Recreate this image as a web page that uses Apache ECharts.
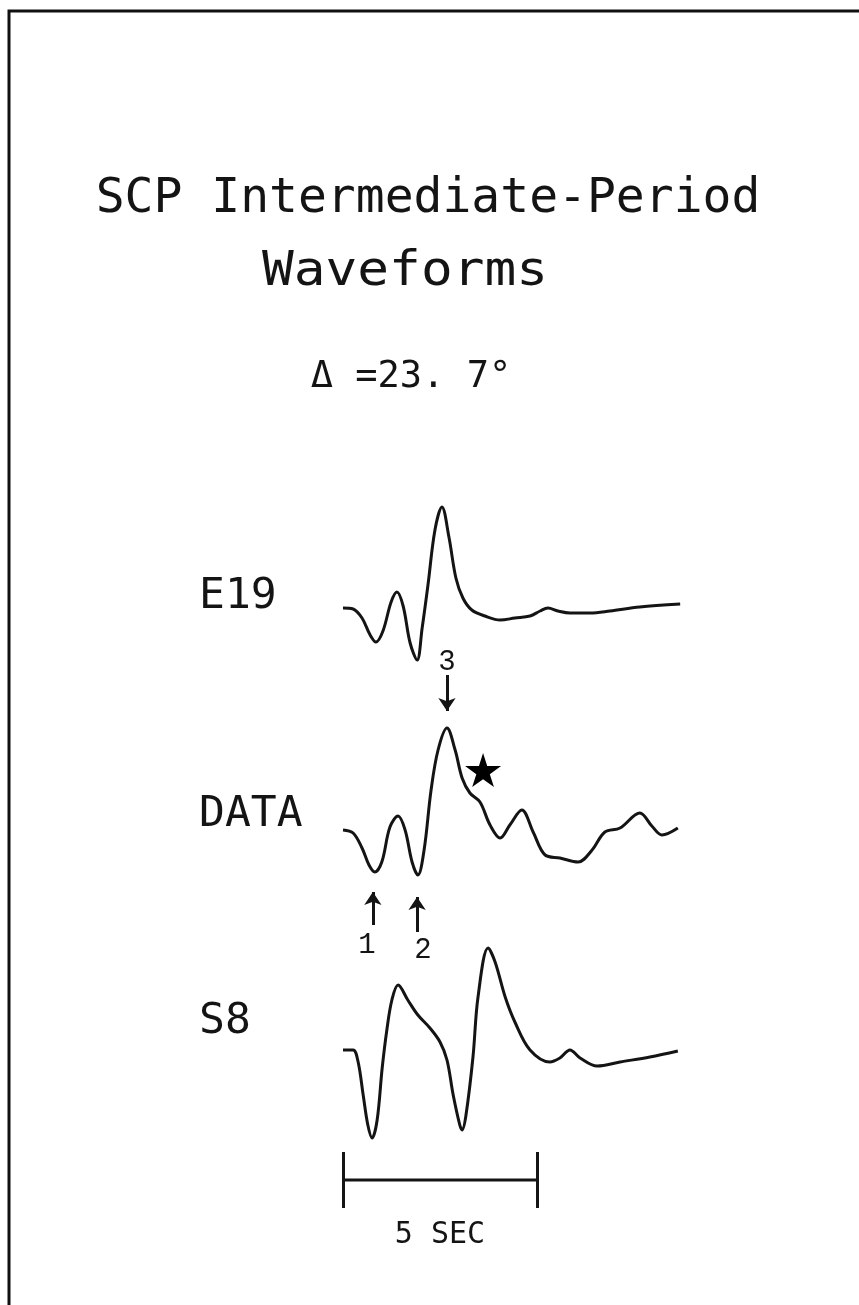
<!DOCTYPE html>
<html><head><meta charset="utf-8">
<script src="https://cdn.jsdelivr.net/npm/echarts@6/dist/echarts.min.js"></script>
<style>html,body{margin:0;padding:0;background:#fff}#c{width:859px;height:1305px}</style>
</head><body><div id="c"></div><script>
// ---- data (time in seconds, amplitude in arbitrary units, up = positive) ----
const stations = ['E19', 'DATA', 'S8'];
const e19 = [[0,0],[0.26,-0.1],[0.49,-1.0],[0.70,-2.7],[0.85,-3.4],[1.03,-2.3],[1.24,0.6],[1.39,1.6],
  [1.55,0.2],[1.73,-3.5],[1.91,-5.2],[2.04,-2.0],[2.19,2.3],[2.37,7.8],[2.55,10.1],[2.73,7.1],[2.91,3.0],
  [3.09,1.0],[3.32,-0.2],[3.66,-0.8],[4.05,-1.2],[4.43,-1.0],[4.82,-0.8],[5.08,-0.3],[5.28,0.0],[5.54,-0.3],
  [5.85,-0.5],[6.37,-0.5],[6.88,-0.3],[7.65,0.1],[8.69,0.4]];
const dataTrace = [[0,0],[0.26,-0.3],[0.49,-1.8],[0.67,-3.5],[0.82,-4.2],[1.00,-3.2],[1.21,0.3],[1.42,1.4],
  [1.60,0.0],[1.78,-3.2],[1.93,-4.5],[2.09,-2.0],[2.27,4.0],[2.45,8.0],[2.68,10.2],[2.89,8.0],[3.07,5.2],
  [3.27,3.7],[3.53,2.8],[3.79,0.5],[4.05,-0.8],[4.30,0.5],[4.61,2.0],[4.90,-0.2],[5.21,-2.5],[5.59,-2.8],
  [6.06,-3.2],[6.42,-2.0],[6.75,-0.2],[7.14,0.2],[7.65,1.7],[7.96,0.4],[8.22,-0.5],[8.63,0.2]];
const s8 = [[0,0],[0.26,0.0],[0.39,-1.2],[0.52,-4.5],[0.64,-7.5],[0.75,-8.8],[0.88,-7.0],[1.01,-1.8],
  [1.13,2.0],[1.26,5.0],[1.42,6.5],[1.67,5.0],[1.93,3.5],[2.24,2.2],[2.50,0.8],[2.68,-1.0],[2.84,-4.5],
  [3.01,-7.5],[3.07,-8.0],[3.17,-6.5],[3.35,-0.7],[3.48,5.3],[3.74,10.2],[3.92,8.8],[4.18,5.3],[4.43,2.8],
  [4.82,0.0],[5.33,-1.2],[5.59,-0.8],[5.85,0.0],[6.11,-0.8],[6.55,-1.6],[7.14,-1.2],[7.91,-0.7],[8.63,-0.1]];
const upArrowTimes = [0.77, 1.91];     // phases 1 and 2
const upArrowLabels = ['1', '2'];
const downArrowTime = 2.68;            // phase 3
const downArrowLabel = '3';
const starTime = 3.61;
const scaleBarSeconds = 5;
const scaleBarLabel = '5 SEC';
const titleLines = ['SCP Intermediate-Period', 'Waveforms'];
const distanceText = 'Δ =23. 7°';

// ---- layout ----
const PX_PER_SEC = 38.8, X0 = 343, W = 859, H = 1305;
const base = {E19: 69.7, DATA: 47.5, S8: 25.5};
const labelPos = {E19: 70.8, DATA: 49.0, S8: 28.3};
const traces = {E19: e19, DATA: dataTrace, S8: s8};
const INK = '#141414';
const MONO = '"DejaVu Sans Mono"';
const BAR_Y = 12.5, BAR_TOP = 15.3, BAR_BOT = 9.7, BAR_TEXT_Y = 7.0;

const series = stations.map(s => ({
  type: 'line', name: s, silent: true, animation: false,
  data: traces[s].map(([t, a]) => [t, a + base[s]]),
  smooth: 0.35, showSymbol: false, symbol: 'none',
  lineStyle: {color: INK, width: 3}
}));

// scale bar
series.push({
  type: 'line', silent: true, animation: false, symbol: 'none',
  data: [[0, BAR_Y], [scaleBarSeconds, BAR_Y]],
  lineStyle: {color: INK, width: 3},
  markLine: {
    silent: true, animation: false, symbol: ['none', 'none'],
    lineStyle: {color: INK, width: 3, type: 'solid'}, label: {show: false},
    data: [
      [{coord: [0, BAR_TOP]}, {coord: [0, BAR_BOT]}],
      [{coord: [scaleBarSeconds, BAR_TOP]}, {coord: [scaleBarSeconds, BAR_BOT]}]
    ]
  }
});
// arrows
series.push({
  type: 'line', silent: true, animation: false, symbol: 'none', data: [],
  markLine: {
    silent: true, animation: false, symbol: ['none', 'arrow'], symbolSize: 13,
    lineStyle: {color: INK, width: 3, type: 'solid'}, label: {show: false},
    data: [
      [{coord: [downArrowTime, 63.0]}, {coord: [downArrowTime, 59.4]}],
      [{coord: [upArrowTimes[0], 38.0]}, {coord: [upArrowTimes[0], 41.3]}],
      [{coord: [upArrowTimes[1], 37.3]}, {coord: [upArrowTimes[1], 40.8]}]
    ]
  }
});
// star
series.push({
  type: 'scatter', silent: true, animation: false,
  symbol: 'path://M50,0 L61,35 L98,35 L68,57 L79,91 L50,70 L21,91 L32,57 L2,35 L39,35 Z',
  symbolSize: [36, 34], itemStyle: {color: '#000', opacity: 1},
  data: [[starTime, 53.5]]
});
const labelStyle = (size, family, pos) => ({
  show: true, position: pos, distance: 0, formatter: '{b}',
  fontFamily: family, fontSize: size, color: INK, opacity: 1
});
// station labels
series.push({
  type: 'scatter', silent: true, animation: false, symbolSize: 0, itemStyle: {opacity: 1},
  data: stations.map(s => ({name: s, value: [-3.71, labelPos[s]]})),
  label: labelStyle(43, MONO, 'right')
});
// phase numbers
series.push({
  type: 'scatter', silent: true, animation: false, symbolSize: 0, itemStyle: {opacity: 1},
  data: [
    {name: upArrowLabels[0], value: [0.62, 36.0]},
    {name: upArrowLabels[1], value: [2.06, 35.5]},
    {name: downArrowLabel, value: [2.68, 64.3]}
  ],
  label: labelStyle(29, '"Liberation Mono"', 'inside')
});
// scale label
series.push({
  type: 'scatter', silent: true, animation: false, symbolSize: 0, itemStyle: {opacity: 1},
  data: [{name: scaleBarLabel, value: [scaleBarSeconds / 2, BAR_TEXT_Y]}],
  label: labelStyle(30, MONO, 'inside')
});

const txt = (x, y, text, size, sx) => ({
  type: 'text', x: x, y: y, scaleX: sx || 1, silent: true,
  style: {text: text, fontSize: size, fontFamily: MONO, fill: INK,
    align: 'center', verticalAlign: 'middle', textAlign: 'center', textVerticalAlign: 'middle'}
});

const chart = echarts.init(document.getElementById('c'), null, {renderer: 'canvas'});
chart.setOption({
  backgroundColor: '#fff',
  animation: false,
  grid: {left: 0, right: 0, top: 0, bottom: 0},
  xAxis: {type: 'value', min: -X0 / PX_PER_SEC, max: (W - X0) / PX_PER_SEC, show: false},
  yAxis: {type: 'value', min: 0, max: H / 10, show: false},
  graphic: [
    {type: 'polyline', silent: true, shape: {points: [[9, H], [9, 11], [W, 11]]},
      style: {stroke: '#111', lineWidth: 3, fill: null}},
    txt(428, 200, titleLines[0], 48),
    txt(405, 273, titleLines[1], 48, 1.1),
    txt(411, 377, distanceText, 37)
  ],
  series: series
});
</script></body></html>
